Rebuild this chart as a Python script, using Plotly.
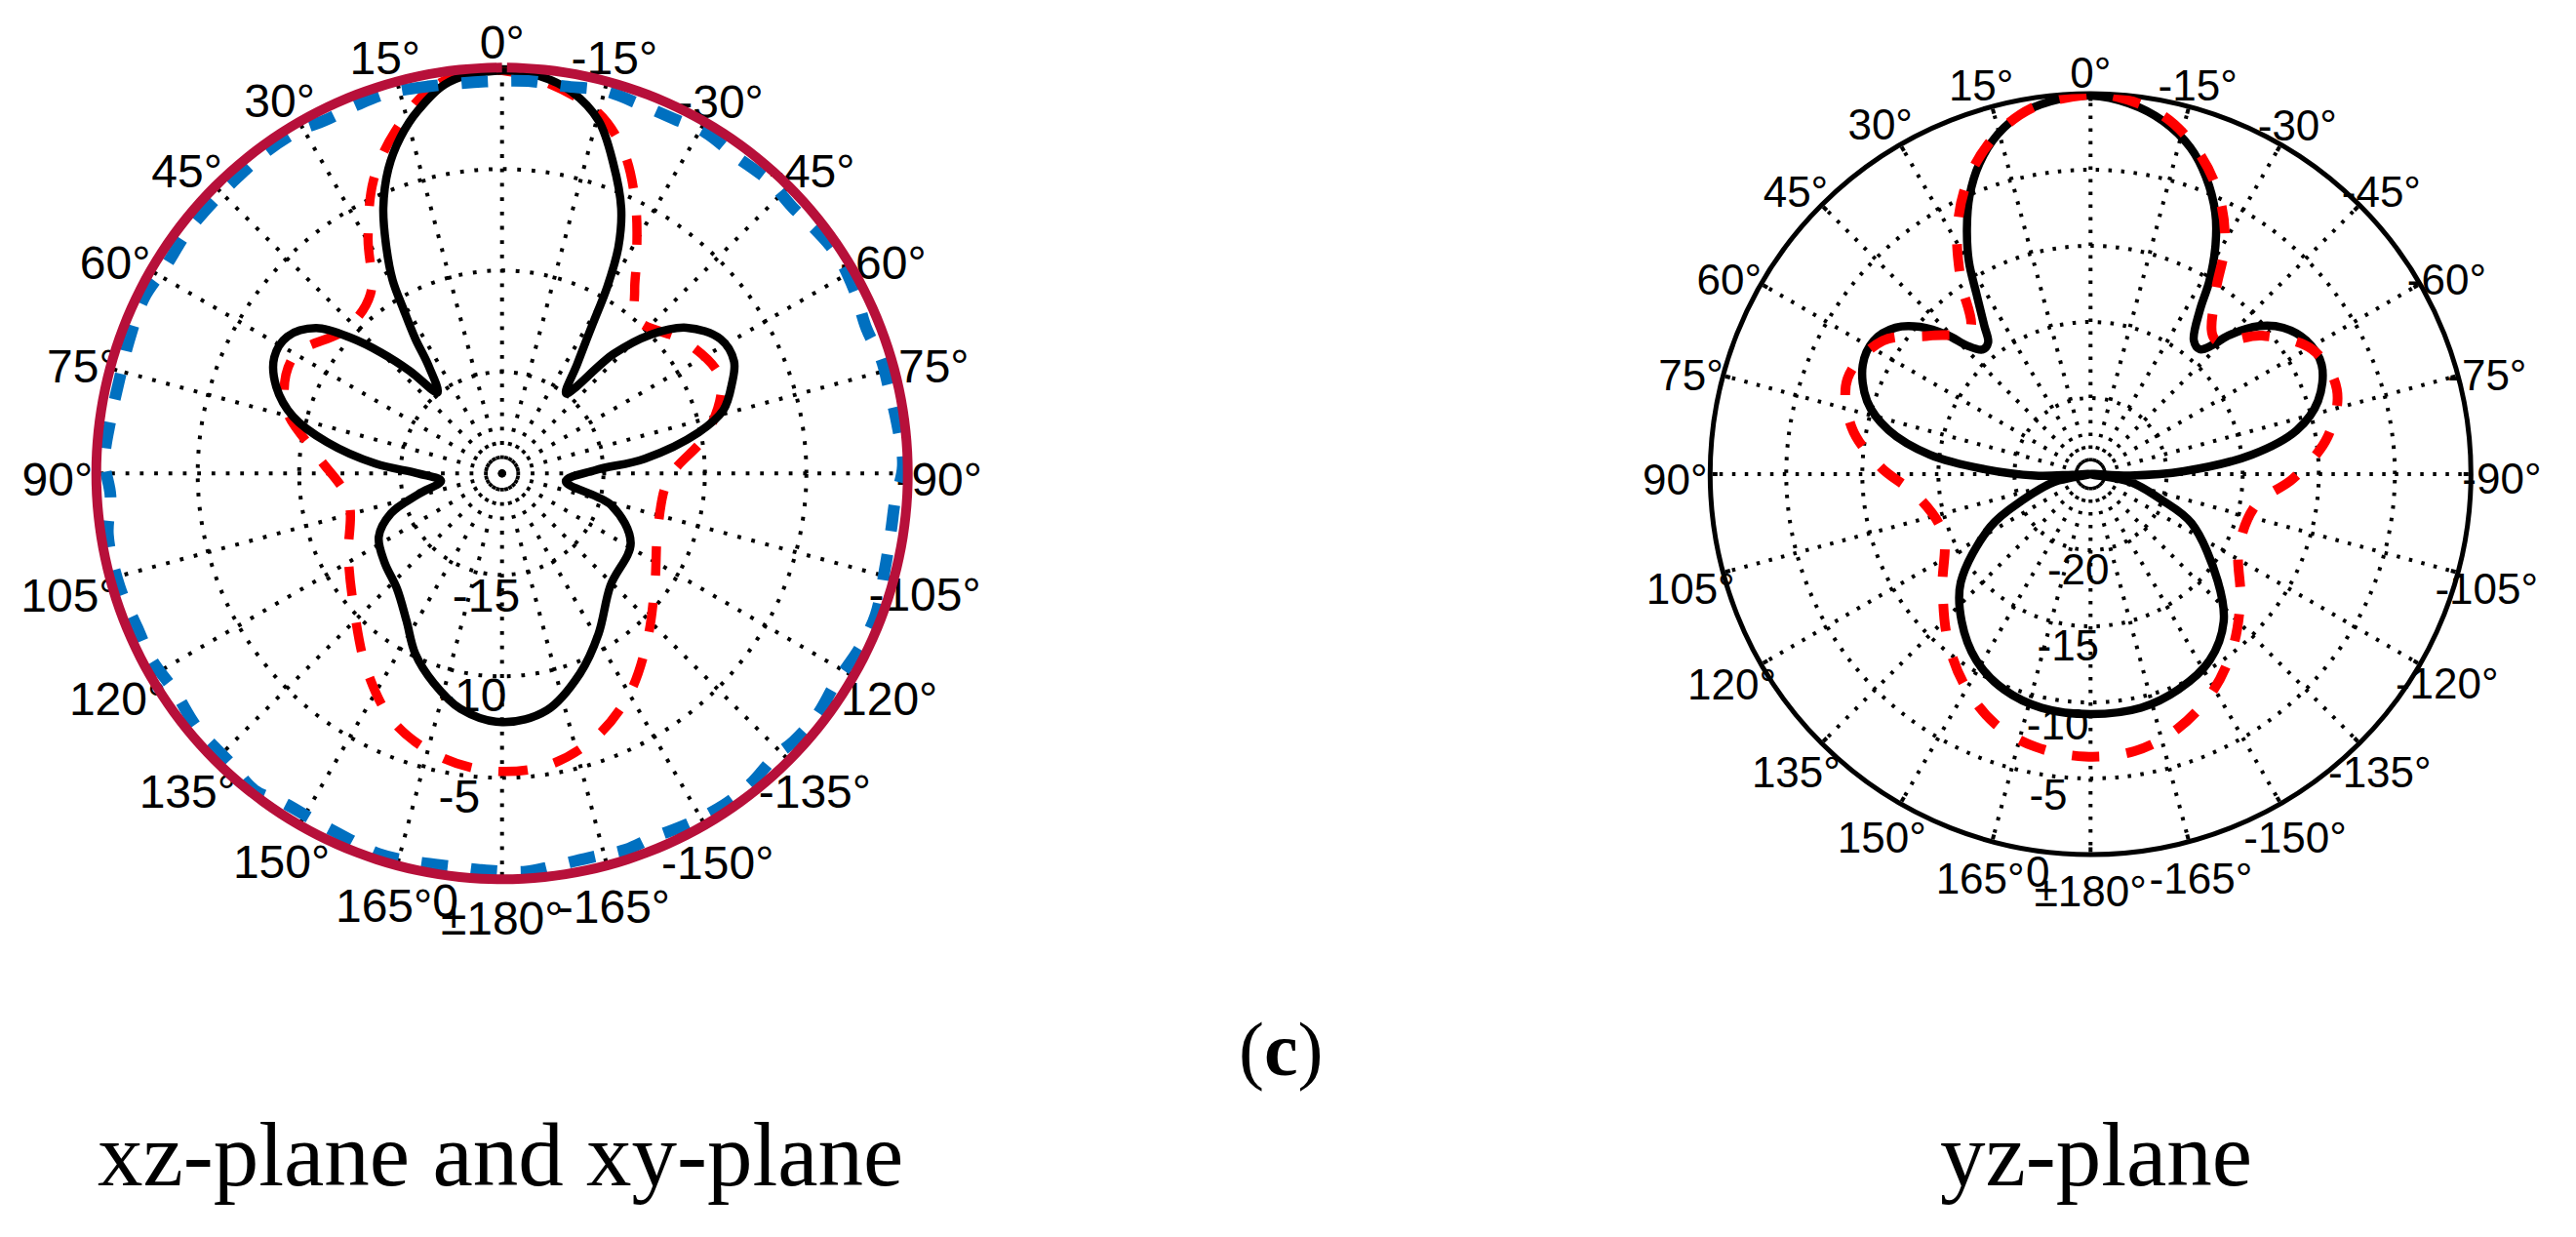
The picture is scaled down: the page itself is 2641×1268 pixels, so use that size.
import plotly.graph_objects as go

# all levels in dB, all angles in degrees (0 at top, positive to the left)
spoke_angles = list(range(0, 360, 15))
angle_labels = ["0°", "15°", "30°", "45°", "60°", "75°", "90°", "105°", "120°", "135°", "150°", "165°", "±180°",
                "-165°", "-150°", "-135°", "-120°", "-105°", "-90°", "-75°", "-60°", "-45°", "-30°", "-15°"]

# where the angle labels sit, just outside the outer ring
left_label_theta = [0, 15.6, 30.6, 45.9, 61.1, 75.3, 90.4, 105.3, 120, 135, 150.2, 164.6, 180,
                    -165.4, -150.8, -135.2, -120.4, -105.6, -90.3, -75.4, -60.7, -45.4, -30.2, -15]
left_label_db = [1.39, 1.44, 1.54, 1.63, 1.78, 1.39, 1.92, 2.12, 1.88, 1.92, 1.88, 1.92, 1.78,
                 1.88, 1.78, 1.88, 1.68, 1.63, 1.54, 1.59, 1.54, 1.44, 1.39, 1.39]
right_label_theta = [0, 15.6, 30.8, 45.9, 61.3, 75.6, 90.3, 105.5, 120, 135, 149.9, 164.6, 180,
                     -164.6, -150.4, -135.5, -120, -105.7, -90.2, -75.5, -60.9, -45.5, -30.4, -15.3]
right_label_db = [1.6, 1.73, 1.99, 1.99, 2.08, 2.12, 2.31, 2.28, 2.22, 2.37, 2.35, 2.31, 2.18,
                  2.31, 2.22, 2.12, 2.05, 2.03, 2.03, 1.92, 1.79, 1.79, 1.86, 1.7]

left_rings = [-15, -10, -5]
left_ring_labels = ["-15", "-10", "-5", "0"]
left_ring_label_db = [-14.1, -9.13, -4.09, 1.1]
right_rings = [-20, -15, -10, -5]
right_ring_labels = ["-20", "-15", "-10", "-5", "0"]
right_ring_label_db = [-18.9, -13.85, -8.65, -4.0, 1.15]
left_ring_label_angle = 172.4
right_ring_label_angle = 172.4

xz_black_theta = [0, 7.7, 13, 16.8, 20.5, 24.1, 26.9, 29.5, 31, 32.8, 34.2, 38.5, 42, 45, 48, 52, 57.5, 63, 69, 74.8,
                  79.9, 85.6, 90, 97, 104, 109.8, 117.2, 127, 137.7, 147, 154.3, 162, 170, 180,
                  -169.3, -158.7, -149, -136, -118.4, -106.3, -97, -88, -84.1, -78.2, -74, -68.7, -64.2, -58.4,
                  -51.7, -46.9, -43, -38.7, -34.5, -31.3, -29.4, -27.2, -24.2, -19.7, -15.3, -10.3, -5.5, 0]
xz_black_db = [-0.14, -0.53, -1.63, -2.69, -3.99, -5.67, -7.36, -9.04, -10.58, -12.12, -13.5, -14.9, -13.2, -11.6,
               -10.05, -8.37, -7.45, -7.4, -8.08, -9.33, -11.25, -13.75, -15.87, -16.97, -15.74, -14.18, -13.17,
               -12.74, -12.31, -11.35, -10.14, -9.13, -8.22, -7.74,
               -8.12, -9.42, -10.77, -12.31, -12.79, -14.37, -16.83, -15.4, -12.93, -10.1, -8.65, -7.84, -7.3, -7.36,
               -8.41, -10.0, -11.97, -14.95, -13.46, -11.44, -9.42, -7.45, -5.67, -3.75, -1.97, -0.87, -0.34, -0.14]

xz_red_theta = [0, 9.6, 17.4, 23.7, 29.6, 36.3, 47.2, 60.7, 73, 84.6, 100, 118.6, 133.8, 145.3, 156, 166.7, 177.4,
                -171.3, -160.5, -150, -139, -125.7, -109, -91.7, -78.7, -66.6, -54.5, -41.5, -35.9, -32.3, -26.5,
                -20.5, -13.9, 0]
xz_red_db = [-0.14, -0.58, -2.35, -4.23, -6.63, -9.04, -9.52, -8.22, -8.85, -10.87, -12.31, -11.37, -9.95, -8.27,
             -6.68, -5.77, -5.34,
             -5.43, -6.2, -7.45, -9.09, -10.72, -11.87, -11.78, -9.66, -8.27, -8.85, -9.9, -8.85, -7.6, -5.24,
             -2.98, -1.44, -0.14]

xz_blue_theta = [2.4, 10.8, 16.7, 21.4, 26.8, 30.5, 36.3, 41.5, 45.9, 52.6, 58.4, 63.9, 70.3, 76.1, 81.9, 88.2, 93.3,
                 98.9, 106.5, 112.9, 118, 123.6, 129.9, 136.7, 142, 146.6, 151.7, 156.7, 162.1, 167.4, 173.1, 176.8,
                 -176.6, -172.6, -166.8, -161.8, -157.4, -152.3, -146.3, -141.3, -136, -132.6, -127.5, -122.1,
                 -115.9, -110.7, -104, -98.3, -94, -88.9, -82.7, -77.2, -73.3, -68.4, -62.5, -56.7, -50.6, -47.7,
                 -42.4, -36.4, -30.7, -26, -20.7, -15, -9.2, -3.8, 2.4]
xz_blue_db = [-0.67, -0.58, -0.43, -0.48, -0.53, -0.36, -0.34, -0.43, -0.45, -0.45, -0.53, -0.35, -0.48, -0.58, -0.53,
              -0.4, -0.67, -0.34, -0.34, -0.48, -0.45, -0.62, -0.43, -0.43, -0.19, -0.53, -0.55, -0.48, -0.29, -0.38,
              -0.48, -0.43,
              -0.34, -0.48, -0.58, -0.48, -0.58, -0.45, -0.34, -0.4, -0.62, -0.48, -0.43, -0.58, -0.38, -0.31, -0.55,
              -0.62, -0.58, -0.24, -0.38, -0.48, -0.48, -0.67, -0.43, -0.29, -0.48, -0.58, -0.48, -0.58, -0.43, -0.58,
              -0.58, -0.48, -0.67, -0.62, -0.67]

# the second xz/xy curve sits flat on the outer ring, with a small gap at the top
xz_crimson_theta = [t * 3 for t in range(0, 120)] + [359.3]
xz_crimson_db = [0.0] * len(xz_crimson_theta)

yz_black_theta = [0, 4.6, 10.1, 15.3, 19.7, 23.5, 26.7, 29.8, 32.3, 35.6, 37.9, 40.9, 43.9, 45.8, 49.2, 53.1, 58.4,
                  64.4, 71.9, 77.7, 83.1, 87.4, 91.5, 92, 90, 102, 111, 117.7, 129.8, 138.8, 148.5, 158.2, 168.2, 180,
                  -167.8, -157.8, -147.4, -137.9, -130, -115.9, -110, -101, -90, -92, -88.2, -83.1, -78, -72.2, -64.7,
                  -58.2, -52.8, -48.7, -44.8, -43.4, -41.2, -37.7, -33.7, -31.6, -28.6, -25.5, -21.2, -17, -11.6,
                  -5.9, 0]
yz_black_db = [-0.13, -0.26, -0.77, -1.86, -3.33, -5.06, -6.92, -8.91, -10.96, -13.0, -14.04, -14.17, -13.27, -11.92,
               -10.19, -8.97, -8.27, -8.4, -9.55, -11.41, -14.36, -18.08, -21.35, -23.8, -25.0, -22.56, -20.2, -17.56,
               -13.9, -12.14, -10.64, -9.74, -9.31, -9.23,
               -9.29, -9.71, -10.47, -11.95, -14.1, -17.63, -20.0, -22.37, -25.0, -22.4, -18.85, -14.3, -11.15, -9.3,
               -8.2, -8.33, -9.1, -10.26, -12.18, -13.33, -14.1, -13.9, -12.05, -10.09, -7.84, -5.96, -4.04, -2.56,
               -1.31, -0.51, -0.13]

yz_red_theta = [0, 9.1, 16.4, 23.1, 28.9, 33.9, 40, 49.3, 57.3, 68.5, 78.9, 87.9, 97.4, 112, 127, 138.8, 148.8, 159,
                168.5, 178.8,
                -171, -161.2, -150.7, -140.6, -129.8, -116.6, -100.3, -91.2, -81.1, -71, -60.6, -51.1, -42.8, -34.7,
                -30.2, -24.5, -18.1, -11.4, -3.8, 0]
yz_red_db = [-0.06, -0.64, -2.08, -4.23, -6.86, -9.71, -12.63, -11.05, -8.78, -7.84, -9.0, -11.15, -13.56, -14.55,
             -12.82, -10.7, -8.91, -7.44, -6.72, -6.44,
             -6.57, -7.31, -8.62, -10.26, -12.18, -14.1, -13.92, -11.67, -9.23, -7.88, -8.29, -10.51, -12.95, -10.58,
             -7.44, -4.74, -2.56, -0.96, -0.13, -0.06]

WIDTH, HEIGHT = 2641, 1268
BLACK = "#000000"
RED = "#ff0000"
BLUE = "#0070c0"
CRIMSON = "#b7103a"
CLEAR = "rgba(0,0,0,0)"
LABEL_HEADROOM = 3.0  # dB above the outer ring, room for what sits on or outside it
TEXT_DROP = 8  # px, plotly sets middle-anchored text a little high


def domain(cx, cy, radius):
    return dict(x=[(cx - radius) / WIDTH, (cx + radius) / WIDTH],
                y=[1 - (cy + radius) / HEIGHT, 1 - (cy - radius) / HEIGHT])


def polar_layout(cx, cy, radius, rmin, rings, dash, line_w, grid_w):
    return dict(
        domain=domain(cx, cy, radius),
        bgcolor=CLEAR,
        radialaxis=dict(range=[rmin, 0], tickvals=rings, showticklabels=False, ticks="", showline=False,
                        gridcolor=BLACK, gridwidth=grid_w, griddash=dash, layer="below traces"),
        angularaxis=dict(rotation=90, direction="counterclockwise", tickmode="array", tickvals=spoke_angles,
                         showticklabels=False, ticks="inside", ticklen=5, tickwidth=4, tickcolor=BLACK,
                         linecolor=BLACK, linewidth=line_w,
                         gridcolor=BLACK, gridwidth=grid_w, griddash=dash, layer="below traces"),
    )


def overlay_layout(cx, cy, radius, rmin):
    # same centre and dB scale as the chart, only reaching further out, no axes drawn
    scale = radius * (LABEL_HEADROOM - rmin) / (0 - rmin)
    return dict(
        domain=domain(cx, cy, scale),
        bgcolor=CLEAR,
        radialaxis=dict(range=[rmin, LABEL_HEADROOM], visible=False),
        angularaxis=dict(rotation=90, direction="counterclockwise", visible=False),
    )


def curve(theta, db, color, width, subplot, dash="solid"):
    return go.Scatterpolar(theta=theta, r=db, mode="lines", subplot=subplot, showlegend=False, hoverinfo="skip",
                           cliponaxis=False,
                           line=dict(color=color, width=width, dash=dash, shape="spline", smoothing=1.0))


def labels(theta, db, text, size, subplot):
    return go.Scatterpolar(theta=theta, r=db, mode="text", text=text, subplot=subplot, showlegend=False,
                           hoverinfo="skip", cliponaxis=False, textposition="middle center",
                           textfont=dict(family="Liberation Sans", size=size, color=BLACK))


fig = go.Figure()

# text goes on the first subplots because the curves cover some of it
fig.add_trace(labels(left_label_theta, left_label_db, angle_labels, 48, "polar"))
fig.add_trace(labels([left_ring_label_angle] * len(left_ring_labels), left_ring_label_db, left_ring_labels, 48, "polar"))
fig.add_trace(labels(right_label_theta, right_label_db, angle_labels, 44, "polar2"))
fig.add_trace(labels([right_ring_label_angle] * len(right_ring_labels), right_ring_label_db, right_ring_labels, 44, "polar2"))

# left chart
fig.add_trace(curve(xz_red_theta, xz_red_db, RED, 9.5, "polar3", dash="30px,28px"))
fig.add_trace(curve(xz_black_theta, xz_black_db, BLACK, 8.5, "polar3"))
fig.add_trace(curve(xz_blue_theta, xz_blue_db, BLUE, 12, "polar3", dash="27px,24px"))
# on an overlay, the chart's own subplot would clip the outer half of this line
fig.add_trace(curve(xz_crimson_theta, xz_crimson_db, CRIMSON, 10, "polar5"))

# right chart
fig.add_trace(curve(yz_black_theta, yz_black_db, BLACK, 8.5, "polar4"))
fig.add_trace(curve(yz_red_theta, yz_red_db, RED, 10, "polar4", dash="28px,28px"))

fig.update_layout(
    width=WIDTH,
    height=HEIGHT,
    margin=dict(l=0, r=0, t=0, b=0),
    paper_bgcolor="white",
    showlegend=False,
    polar=overlay_layout(514.7, 485.3 + TEXT_DROP, 416, -20),
    polar2=overlay_layout(2143.3, 486 + TEXT_DROP, 390, -25),
    polar3=polar_layout(514.7, 485.3, 416, -20, left_rings, "3.8px,10.9px", 5, 3.8),
    polar4=polar_layout(2143.3, 486, 390, -25, right_rings, "3.5px,9.5px", 5, 3.5),
    polar5=overlay_layout(514.7, 485.3, 416, -20),
)

serif = dict(family="Liberation Serif", color=BLACK)
captions = [("(<b>c</b>)", 1313, 1075, 78), ("xz-plane and xy-plane", 513, 1183, 93), ("yz-plane", 2149, 1183, 93)]
for text, x, y, size in captions:
    fig.add_annotation(text=text, x=x / WIDTH, y=1 - y / HEIGHT, xref="paper", yref="paper", showarrow=False,
                       xanchor="center", yanchor="middle", font=dict(size=size, **serif))

fig.write_html("out.html", config={"displayModeBar": False}, post_script="document.body.style.margin='0';")
